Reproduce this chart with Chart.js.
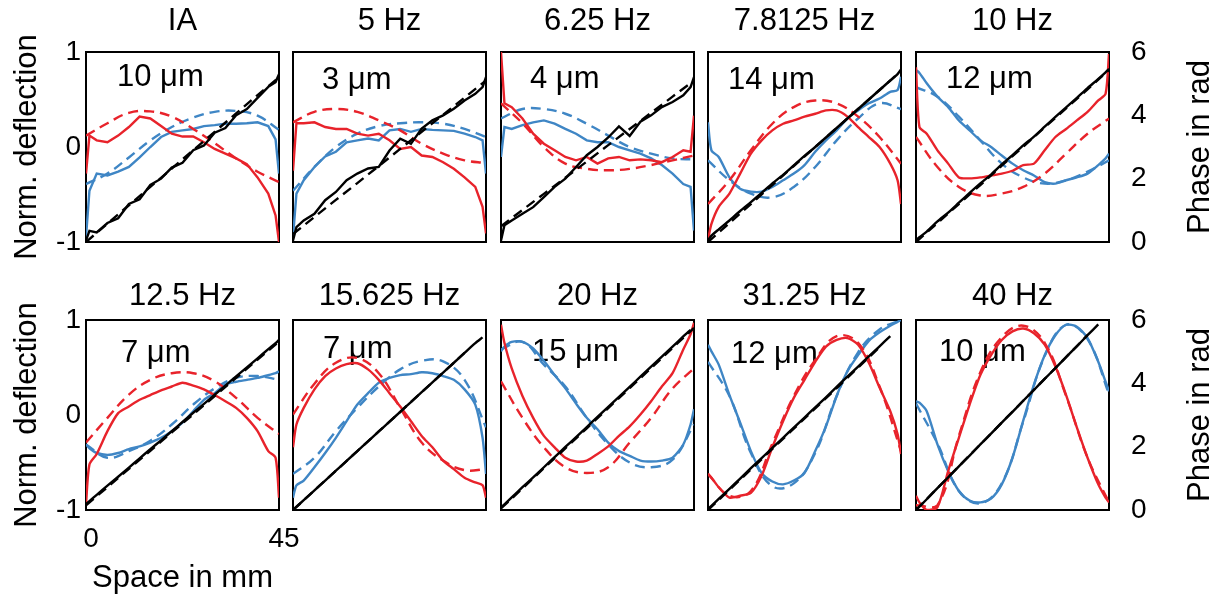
<!DOCTYPE html>
<html>
<head>
<meta charset="utf-8">
<script src="https://cdn.jsdelivr.net/npm/chart.js@4.4.0/dist/chart.umd.min.js"></script>
<style>
body { margin: 0; background: #fff; width: 1222px; height: 594px; overflow: hidden; position: relative; }
canvas { position: absolute; }
</style>
</head>
<body>
<script>
// x positions (mm) of measured traces and of the fitted curves
const xSolid = [0, 0.8, 2.5, 5, 7.5, 10, 12.5, 15, 17.5, 20, 22.5, 25, 27.5, 30, 32.5, 35, 37.5, 40, 42.5, 44.2, 45]
const xFit = [0, 5, 10, 15, 20, 25, 30, 35, 40, 45]

const panelTitles = ['IA', '5 Hz', '6.25 Hz', '7.8125 Hz', '10 Hz', '12.5 Hz', '15.625 Hz', '20 Hz', '31.25 Hz', '40 Hz']
const amplitudes = ['10 μm', '3 μm', '4 μm', '14 μm', '12 μm', '7 μm', '7 μm', '15 μm', '12 μm', '10 μm']
const deflTicks = [-1, 0, 1]
const phaseTicks = [0, 2, 4, 6]
const spaceTicks = [0, 45]

// IA
const iaRed = [-0.28, 0.12, 0.07, 0.05, 0.12, 0.21, 0.32, 0.30, 0.22, 0.14, 0.11, 0.11, 0.05, -0.02, -0.07, -0.12, -0.18, -0.32, -0.49, -0.72, -1.0]
const iaRedFit = [0.12, 0.25, 0.36, 0.375, 0.32, 0.19, 0.04, -0.12, -0.26, -0.37]
const iaBlue = [-0.95, -0.46, -0.28, -0.30, -0.26, -0.21, -0.11, 0.0, 0.105, 0.16, 0.175, 0.19, 0.22, 0.23, 0.245, 0.245, 0.25, 0.26, 0.22, 0.08, -0.28]
const iaBlueFit = [-0.39, -0.28, -0.11, 0.07, 0.21, 0.31, 0.37, 0.38, 0.33, 0.18]
const iaPhase = [0.05, 0.35, 0.3, 0.6, 0.75, 1.2, 1.35, 1.8, 2.0, 2.35, 2.5, 2.9, 3.05, 3.45, 3.6, 4.0, 4.2, 4.55, 4.9, 5.05, 5.3]
const iaPhaseFit = [0.0, 0.58, 1.16, 1.74, 2.32, 2.9, 3.48, 4.06, 4.64, 5.2]

// 5 Hz
const hz5Red = [-0.25, 0.25, 0.25, 0.26, 0.21, 0.19, 0.19, 0.14, 0.12, 0.14, 0.07, -0.02, 0.0, -0.09, -0.105, -0.16, -0.23, -0.32, -0.42, -0.63, -0.91]
const hz5RedFit = [0.26, 0.37, 0.40, 0.37, 0.28, 0.175, 0.035, -0.07, -0.14, -0.17]
const hz5Blue = [-0.95, -0.49, -0.35, -0.21, -0.1, -0.05, 0.05, 0.07, 0.09, 0.07, 0.175, 0.19, 0.16, 0.19, 0.18, 0.175, 0.17, 0.14, 0.105, 0.07, -0.28]
const hz5BlueFit = [-0.46, -0.21, 0.0, 0.14, 0.22, 0.25, 0.26, 0.245, 0.19, 0.105]
const hz5Phase = [0.05, 0.47, 0.68, 0.89, 1.32, 1.58, 1.95, 2.16, 2.32, 2.37, 2.89, 3.26, 3.1, 3.58, 3.84, 4.0, 4.21, 4.47, 4.68, 4.89, 5.21]
const hz5PhaseFit = [0.25, 0.79, 1.33, 1.86, 2.4, 2.94, 3.48, 4.02, 4.56, 5.1]

// 6.25 Hz
const hz625Red = [1.0, 0.46, 0.42, 0.30, 0.14, 0.035, -0.035, -0.105, -0.14, -0.105, -0.175, -0.12, -0.105, -0.14, -0.13, -0.14, -0.16, -0.105, -0.035, -0.05, 0.33]
const hz625RedFit = [0.46, 0.25, 0.0, -0.175, -0.23, -0.245, -0.23, -0.19, -0.14, -0.09]
const hz625Blue = [-0.105, 0.21, 0.19, 0.23, 0.26, 0.28, 0.245, 0.19, 0.14, 0.07, 0.05, 0.05, 0.0, -0.035, -0.07, -0.12, -0.19, -0.28, -0.39, -0.42, -0.88]
const hz625BlueFit = [0.30, 0.40, 0.40, 0.35, 0.245, 0.12, 0.0, -0.07, -0.12, -0.13]
const hz625Phase = [0.05, 0.53, 0.68, 0.89, 1.1, 1.42, 1.74, 2.0, 2.37, 2.74, 3.0, 3.3, 3.65, 3.35, 3.8, 4.0, 4.26, 4.42, 4.63, 4.89, 5.21]
const hz625PhaseFit = [0.5, 1.01, 1.52, 2.03, 2.54, 3.06, 3.57, 4.08, 4.59, 5.1]

// 7.8125 Hz
const hz78Red = [-0.98, -0.81, -0.63, -0.49, -0.28, -0.07, 0.07, 0.175, 0.245, 0.28, 0.32, 0.35, 0.385, 0.385, 0.32, 0.21, 0.105, 0.0, -0.175, -0.35, -0.6]
const hz78RedFit = [-0.6, -0.35, -0.035, 0.245, 0.42, 0.49, 0.46, 0.32, 0.105, -0.175]
const hz78Blue = [0.26, -0.035, -0.105, -0.32, -0.44, -0.47, -0.47, -0.42, -0.35, -0.28, -0.19, -0.05, 0.07, 0.175, 0.30, 0.385, 0.46, 0.51, 0.58, 0.6, 0.74]
const hz78BlueFit = [-0.14, -0.35, -0.49, -0.53, -0.42, -0.21, 0.07, 0.30, 0.46, 0.40]
const hz78Phase = [0.05, 0.2, 0.4, 0.68, 0.98, 1.26, 1.55, 1.85, 2.12, 2.42, 2.72, 3.0, 3.3, 3.6, 3.9, 4.2, 4.5, 4.8, 5.1, 5.3, 5.45]
const hz78PhaseFit = [0.0, 0.6, 1.2, 1.8, 2.4, 3.0, 3.6, 4.2, 4.8, 5.4]

// 10 Hz
const hz10Red = [0.84, 0.21, 0.14, -0.035, -0.175, -0.32, -0.33, -0.32, -0.3, -0.28, -0.25, -0.19, -0.175, -0.035, 0.105, 0.19, 0.28, 0.37, 0.49, 0.56, 0.98]
const hz10RedFit = [0.105, -0.21, -0.42, -0.51, -0.49, -0.42, -0.28, -0.07, 0.14, 0.30]
const hz10Blue = [0.81, 0.78, 0.67, 0.53, 0.42, 0.28, 0.175, 0.07, 0.0, -0.09, -0.175, -0.245, -0.30, -0.37, -0.385, -0.35, -0.32, -0.28, -0.19, -0.12, -0.07]
const hz10BlueFit = [0.63, 0.53, 0.32, 0.07, -0.175, -0.32, -0.385, -0.35, -0.26, -0.14]
const hz10Phase = [0.05, 0.15, 0.33, 0.65, 0.93, 1.24, 1.55, 1.85, 2.13, 2.45, 2.74, 3.05, 3.33, 3.64, 3.95, 4.25, 4.55, 4.86, 5.15, 5.36, 5.47]
const hz10PhaseFit = [0.0, 0.6, 1.2, 1.8, 2.41, 3.01, 3.62, 4.22, 4.82, 5.43]

// 12.5 Hz
const hz125Red = [-0.94, -0.52, -0.41, -0.17, 0.02, 0.09, 0.16, 0.21, 0.26, 0.30, 0.34, 0.31, 0.27, 0.21, 0.145, 0.075, -0.03, -0.17, -0.38, -0.45, -0.87]
const hz125RedFit = [-0.29, -0.03, 0.215, 0.37, 0.44, 0.44, 0.355, 0.18, -0.03, -0.2]
const hz125Blue = [-0.31, -0.35, -0.40, -0.42, -0.40, -0.36, -0.33, -0.29, -0.24, -0.17, -0.08, 0.04, 0.16, 0.23, 0.32, 0.35, 0.37, 0.39, 0.42, 0.44, 0.46]
const hz125BlueFit = [-0.31, -0.45, -0.38, -0.27, -0.1, 0.11, 0.28, 0.39, 0.41, 0.37]
const hz125Phase = [0.19, 0.28, 0.48, 0.77, 1.05, 1.34, 1.63, 1.92, 2.2, 2.49, 2.78, 3.07, 3.35, 3.64, 3.93, 4.22, 4.5, 4.79, 5.08, 5.27, 5.37]
const hz125PhaseFit = [0.15, 0.72, 1.3, 1.87, 2.45, 3.02, 3.6, 4.17, 4.75, 5.32]

// 15.625 Hz
const hz15Red = [-0.34, -0.1, 0.075, 0.27, 0.41, 0.49, 0.535, 0.545, 0.48, 0.37, 0.23, 0.09, -0.065, -0.22, -0.34, -0.48, -0.57, -0.66, -0.71, -0.74, -0.87]
const hz15RedFit = [0.005, 0.33, 0.55, 0.6, 0.44, 0.075, -0.29, -0.48, -0.58, -0.57]
const hz15Blue = [-0.87, -0.74, -0.69, -0.55, -0.40, -0.24, -0.065, 0.11, 0.23, 0.34, 0.39, 0.42, 0.43, 0.45, 0.44, 0.41, 0.37, 0.27, 0.11, -0.24, -0.62]
const hz15BlueFit = [-0.62, -0.45, -0.17, 0.075, 0.30, 0.48, 0.57, 0.565, 0.37, -0.13]
const hz15Phase = [0.0, 0.1, 0.31, 0.62, 0.93, 1.24, 1.55, 1.86, 2.17, 2.48, 2.79, 3.1, 3.41, 3.72, 4.03, 4.34, 4.65, 4.96, 5.27, 5.45, null]
const hz15PhaseFit = [0.0, 0.62, 1.24, 1.86, 2.48, 3.1, 3.72, 4.34, 4.96, null]

// 20 Hz
const hz20Red = [0.95, 0.76, 0.49, 0.2, -0.03, -0.22, -0.34, -0.45, -0.49, -0.48, -0.41, -0.33, -0.22, -0.12, 0.005, 0.145, 0.3, 0.44, 0.69, 0.85, 0.97]
const hz20RedFit = [0.355, -0.03, -0.34, -0.55, -0.61, -0.55, -0.29, -0.03, 0.28, 0.49]
const hz20Blue = [0.67, 0.72, 0.77, 0.77, 0.7, 0.57, 0.42, 0.28, 0.12, -0.03, -0.15, -0.29, -0.38, -0.43, -0.48, -0.49, -0.48, -0.45, -0.31, -0.1, 0.06]
const hz20BlueFit = [0.69, 0.77, 0.53, 0.3, -0.03, -0.31, -0.5, -0.55, -0.47, -0.1]
const hz20Phase = [0.08, 0.18, 0.4, 0.72, 1.03, 1.35, 1.67, 1.99, 2.3, 2.62, 2.94, 3.26, 3.57, 3.89, 4.21, 4.53, 4.84, 5.16, 5.48, 5.69, null]
const hz20PhaseFit = [0.05, 0.68, 1.32, 1.95, 2.58, 3.22, 3.85, 4.48, 5.12, 5.75]

// 31.25 Hz
const hz31Red = [-0.62, -0.66, -0.76, -0.87, -0.85, -0.82, -0.64, -0.34, -0.065, 0.18, 0.37, 0.56, 0.72, 0.79, 0.81, 0.74, 0.55, 0.29, 0.04, -0.2, -0.41]
const hz31RedFit = [-0.62, -0.85, -0.8, -0.3, 0.2, 0.58, 0.83, 0.76, 0.3, -0.38]
const hz31Blue = [0.74, 0.67, 0.53, 0.21, -0.08, -0.38, -0.61, -0.7, -0.73, -0.69, -0.61, -0.38, -0.12, 0.2, 0.46, 0.63, 0.78, 0.87, 0.94, 0.98, 1.0]
const hz31BlueFit = [0.56, 0.2, -0.4, -0.75, -0.72, -0.4, 0.2, 0.66, 0.9, 1.0]
const hz31Phase = [0.03, 0.13, 0.35, 0.67, 0.99, 1.32, 1.64, 1.96, 2.28, 2.6, 2.92, 3.24, 3.56, 3.89, 4.21, 4.53, 4.85, 5.17, 5.49, null, null]
const hz31PhaseFit = [0.0, 0.64, 1.28, 1.93, 2.57, 3.21, 3.85, 4.5, 5.14, null]

// 40 Hz
const hz40Red = [-0.85, -0.92, -1.0, -0.97, -0.59, -0.24, 0.11, 0.42, 0.63, 0.79, 0.88, 0.91, 0.86, 0.74, 0.51, 0.21, -0.13, -0.45, -0.73, -0.87, -0.92]
const hz40RedFit = [-0.95, -0.95, -0.22, 0.45, 0.82, 0.94, 0.76, 0.2, -0.45, -0.92]
const hz40Blue = [0.145, 0.13, 0.04, -0.31, -0.59, -0.8, -0.9, -0.92, -0.88, -0.73, -0.45, -0.06, 0.32, 0.63, 0.84, 0.95, 0.93, 0.81, 0.56, 0.35, 0.25]
const hz40BlueFit = [0.12, -0.3, -0.8, -0.93, -0.72, -0.07, 0.62, 0.95, 0.8, 0.22]
const hz40Phase = [0.0, 0.11, 0.34, 0.69, 1.03, 1.38, 1.72, 2.07, 2.41, 2.76, 3.1, 3.45, 3.79, 4.14, 4.48, 4.83, 5.17, 5.52, 5.86, null, null]
const hz40PhaseFit = [0.0, 0.69, 1.38, 2.07, 2.76, 3.45, 4.14, 4.83, 5.52, null]

const panels = [
  [iaRed, iaRedFit, iaBlue, iaBlueFit, iaPhase, iaPhaseFit],
  [hz5Red, hz5RedFit, hz5Blue, hz5BlueFit, hz5Phase, hz5PhaseFit],
  [hz625Red, hz625RedFit, hz625Blue, hz625BlueFit, hz625Phase, hz625PhaseFit],
  [hz78Red, hz78RedFit, hz78Blue, hz78BlueFit, hz78Phase, hz78PhaseFit],
  [hz10Red, hz10RedFit, hz10Blue, hz10BlueFit, hz10Phase, hz10PhaseFit],
  [hz125Red, hz125RedFit, hz125Blue, hz125BlueFit, hz125Phase, hz125PhaseFit],
  [hz15Red, hz15RedFit, hz15Blue, hz15BlueFit, hz15Phase, hz15PhaseFit],
  [hz20Red, hz20RedFit, hz20Blue, hz20BlueFit, hz20Phase, hz20PhaseFit],
  [hz31Red, hz31RedFit, hz31Blue, hz31BlueFit, hz31Phase, hz31PhaseFit],
  [hz40Red, hz40RedFit, hz40Blue, hz40BlueFit, hz40Phase, hz40PhaseFit]
]

// layout
const colLeft = [86, 293, 501, 708, 916]
const rowTop = [52, 320]
const panelW = 193, panelH = 190
const titlePad = [3, 10]
const insetPos = [[31, 34], [29, 37], [29, 36], [20, 37], [30, 36], [35, 42], [30, 38], [31, 41], [23, 43], [23, 41]]
const RED = '#e8232b', BLUE = '#3f86c5', BLACK = '#000'
const FONT = "'Liberation Sans', Arial, sans-serif"
const FS = 31
const TICK_FS = 28

Chart.defaults.font.family = FONT
Chart.defaults.color = '#000'

const panelText = {
  id: 'panelText',
  beforeDatasetsDraw(chart, args, opts) {
    const {ctx, chartArea} = chart
    ctx.save()
    ctx.fillStyle = '#000'
    ctx.font = FS + 'px ' + FONT
    ctx.textBaseline = 'alphabetic'
    ctx.fillText(opts.inset, chartArea.left + opts.dx, chartArea.top + opts.dy)
    if (opts.side) {
      ctx.translate(chartArea.right + 91, (chartArea.top + chartArea.bottom) / 2)
      ctx.rotate(-Math.PI / 2)
      ctx.textAlign = 'center'
      ctx.textBaseline = 'middle'
      ctx.fillText(opts.side, 0, 0)
    }
    ctx.restore()
  }
}

function line(data, xs, color, dashed, axis, tension) {
  return {
    data: xs.map((x, i) => ({x: x, y: data[i]})),
    borderColor: color,
    borderWidth: 2.4,
    borderDash: dashed ? [10, 6] : [],
    pointRadius: 0,
    tension: tension,
    fill: false,
    xAxisID: 'x',
    yAxisID: axis
  }
}

function addPanel(k) {
  const col = k % 5, row = Math.floor(k / 5)
  const px = colLeft[col], py = rowTop[row]
  const leftAxis = col == 0, rightAxis = col == 4, spaceAxis = row == 1 && col == 0
  const ml = leftAxis ? px : 10
  const mr = rightAxis ? 1222 - px - panelW : (spaceAxis ? 30 : 10)
  const mt = 52
  const mb = spaceAxis ? 594 - py - panelH : (rightAxis ? 50 : 24)
  const cv = document.createElement('canvas')
  cv.width = ml + panelW + mr
  cv.height = mt + panelH + mb
  cv.style.left = (px - ml) + 'px'
  cv.style.top = (py - mt) + 'px'
  document.body.appendChild(cv)

  const d = panels[k]
  const smooth = k < 3 ? 0 : 0.25
  const border = {display: true, color: '#000', width: 2}
  new Chart(cv, {
    type: 'line',
    data: {
      datasets: [
        line(d[4], xSolid, BLACK, false, 'y2', smooth),
        line(d[5], xFit, BLACK, true, 'y2', 0),
        line(d[0], xSolid, RED, false, 'y', smooth),
        line(d[1], xFit, RED, true, 'y', 0.4),
        line(d[2], xSolid, BLUE, false, 'y', smooth),
        line(d[3], xFit, BLUE, true, 'y', 0.4)
      ]
    },
    options: {
      responsive: false,
      animation: false,
      events: [],
      layout: {padding: 0},
      plugins: {
        legend: {display: false},
        tooltip: {enabled: false},
        panelText: {inset: amplitudes[k], dx: insetPos[k][0], dy: insetPos[k][1], side: rightAxis ? 'Phase in rad' : null}
      },
      scales: {
        x: {
          type: 'linear', position: 'bottom', min: 0, max: 45,
          grid: {display: false, drawTicks: false}, border: border,
          afterBuildTicks: s => { s.ticks = spaceTicks.map(v => ({value: v})) },
          ticks: {display: spaceAxis, font: {size: TICK_FS}, padding: 12, maxRotation: 0, labelOffset: 5},
          title: {display: spaceAxis, text: 'Space in mm', font: {size: FS, lineHeight: 1}, padding: {top: 0, bottom: 0}},
          afterFit: s => { s.height = mb }
        },
        xTop: {
          type: 'linear', position: 'top', min: 0, max: 45,
          grid: {display: false, drawTicks: false}, border: border,
          ticks: {display: false},
          title: {display: true, text: panelTitles[k], font: {size: FS}, padding: {top: titlePad[row], bottom: 0}},
          afterFit: s => { s.height = mt }
        },
        y: {
          type: 'linear', position: 'left', min: -1, max: 1,
          grid: {display: false, drawTicks: false}, border: border,
          afterBuildTicks: s => { s.ticks = deflTicks.map(v => ({value: v})) },
          ticks: {display: leftAxis, font: {size: TICK_FS}, padding: 5},
          title: {display: leftAxis, text: 'Norm. deflection', font: {size: FS}, padding: {top: 9, bottom: 0}},
          afterFit: s => { s.width = ml }
        },
        y2: {
          type: 'linear', position: 'right', min: 0, max: 6,
          grid: {display: false, drawTicks: false}, border: border,
          afterBuildTicks: s => { s.ticks = phaseTicks.map(v => ({value: v})) },
          ticks: {display: rightAxis, font: {size: TICK_FS}, padding: 22},
          afterFit: s => { s.width = mr }
        }
      }
    },
    plugins: [panelText]
  })
}

for (let k = 0; k < 10; k++) addPanel(k)
</script>
</body>
</html>
